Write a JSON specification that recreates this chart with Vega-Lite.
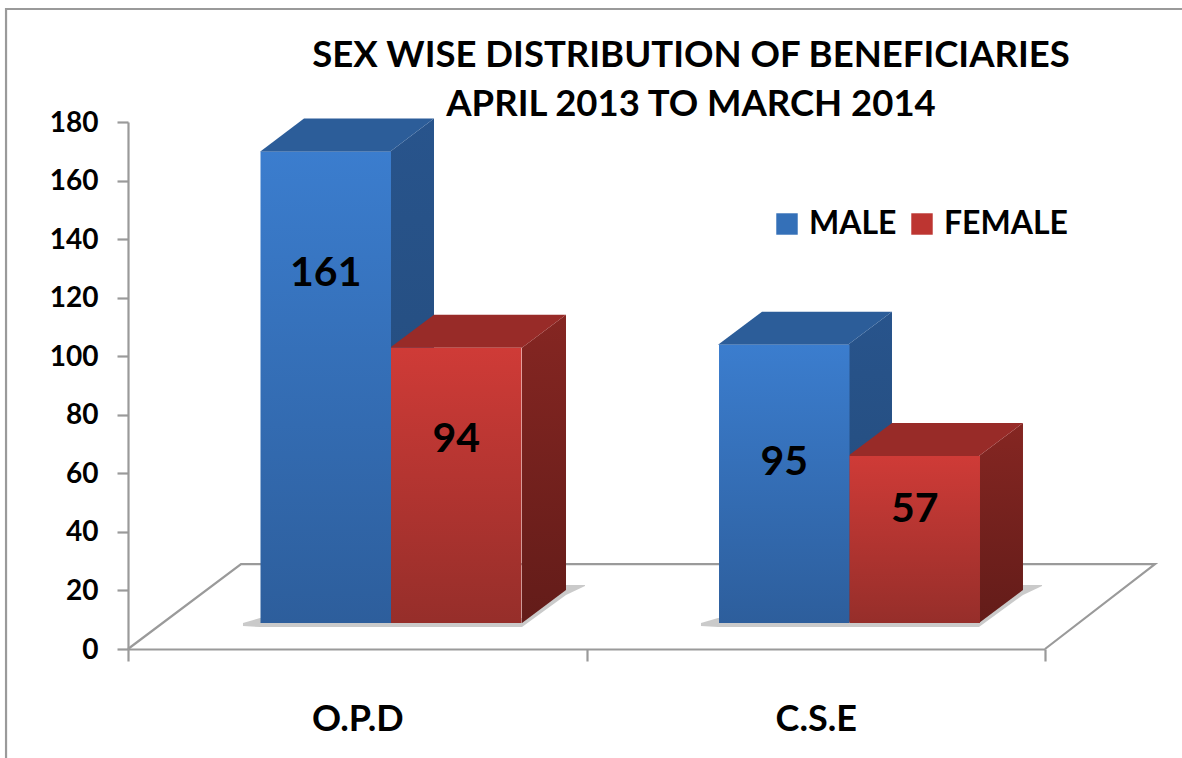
{
"$schema":"https://vega.github.io/schema/vega-lite/v6.json",
"width":1176,"height":749,"autosize":"none",
"padding":{"left":6,"top":9,"right":0,"bottom":0},
"background":"white",
"title":{"text":["SEX WISE DISTRIBUTION OF BENEFICIARIES","APRIL 2013 TO MARCH 2014"],"font":"Lato","fontWeight":"bold","fontSize":36.5,"lineHeight":49,"color":"black","anchor":"middle","frame":"group","dx":97,"dy":148,"offset":0,"baseline":"alphabetic"},
"config":{"view":{"stroke":null}},
"datasets":{
"bars":[
{"category":"O.P.D","sex":"MALE","value":161,"labelAt":119.9},
{"category":"O.P.D","sex":"FEMALE","value":94,"labelAt":63.2},
{"category":"C.S.E","sex":"MALE","value":95,"labelAt":55.3},
{"category":"C.S.E","sex":"FEMALE","value":57,"labelAt":39.3}],
"outline":[
{"shape":"frame","i":0,"u":-0.266,"v":-37.2},{"shape":"frame","i":1,"u":-0.266,"v":218.6},{"shape":"frame","i":2,"u":2.299,"v":218.6},
{"shape":"floor","i":0,"u":0,"v":0},{"shape":"floor","i":1,"u":0.2465,"v":29},{"shape":"floor","i":2,"u":2.2399,"v":29},{"shape":"floor","i":3,"u":2,"v":0}],
"shadow":[
{"group":"O.P.D","u":0.2508,"hi":0,"lo":-1},{"group":"O.P.D","u":0.2879,"hi":1.7,"lo":-1.4},{"group":"O.P.D","u":0.8593,"hi":1.7,"lo":-1.4},{"group":"O.P.D","u":0.9553,"hi":13,"lo":9.6},{"group":"O.P.D","u":0.9967,"hi":13,"lo":12.6},
{"group":"C.S.E","u":1.2497,"hi":0,"lo":-1},{"group":"C.S.E","u":1.2868,"hi":1.7,"lo":-1.4},{"group":"C.S.E","u":1.856,"hi":1.7,"lo":-1.4},{"group":"C.S.E","u":1.952,"hi":13,"lo":9.6},{"group":"C.S.E","u":1.9935,"hi":13,"lo":12.6}],
"faces":[
{"bar":"OPD M side","face":"MALE side","u":0.5714,"hi":161,"lo":0},{"bar":"OPD M side","face":"MALE side","u":0.6674,"hi":172.3,"lo":11.3},
{"bar":"OPD M top","face":"MALE top","u":0.2879,"hi":161,"lo":161},{"bar":"OPD M top","face":"MALE top","u":0.3839,"hi":172.3,"lo":161},{"bar":"OPD M top","face":"MALE top","u":0.5714,"hi":172.3,"lo":161},{"bar":"OPD M top","face":"MALE top","u":0.6674,"hi":172.3,"lo":172.3},
{"bar":"CSE M side","face":"MALE side","u":1.5703,"hi":95,"lo":0},{"bar":"CSE M side","face":"MALE side","u":1.6663,"hi":106.3,"lo":11.3},
{"bar":"CSE M top","face":"MALE top","u":1.2868,"hi":95,"lo":95},{"bar":"CSE M top","face":"MALE top","u":1.3828,"hi":106.3,"lo":95},{"bar":"CSE M top","face":"MALE top","u":1.5703,"hi":106.3,"lo":95},{"bar":"CSE M top","face":"MALE top","u":1.6663,"hi":106.3,"lo":106.3},
{"bar":"OPD F side","face":"FEMALE side","u":0.8593,"hi":94,"lo":0},{"bar":"OPD F side","face":"FEMALE side","u":0.9553,"hi":105.3,"lo":11.3},
{"bar":"OPD F top","face":"FEMALE top","u":0.5714,"hi":94,"lo":94},{"bar":"OPD F top","face":"FEMALE top","u":0.6674,"hi":105.3,"lo":94},{"bar":"OPD F top","face":"FEMALE top","u":0.8593,"hi":105.3,"lo":94},{"bar":"OPD F top","face":"FEMALE top","u":0.9553,"hi":105.3,"lo":105.3},
{"bar":"CSE F side","face":"FEMALE side","u":1.856,"hi":57,"lo":0},{"bar":"CSE F side","face":"FEMALE side","u":1.952,"hi":68.3,"lo":11.3},
{"bar":"CSE F top","face":"FEMALE top","u":1.5703,"hi":57,"lo":57},{"bar":"CSE F top","face":"FEMALE top","u":1.6663,"hi":68.3,"lo":57},{"bar":"CSE F top","face":"FEMALE top","u":1.856,"hi":68.3,"lo":57},{"bar":"CSE F top","face":"FEMALE top","u":1.952,"hi":68.3,"lo":68.3}]
},
"resolve":{"scale":{"x":"independent","y":"independent","color":"independent","xOffset":"independent"},"axis":{"x":"independent","y":"independent"}},
"layer":[
{"data":{"name":"outline"},"mark":{"type":"line","color":"#9a9a9a","strokeWidth":2.2,"clip":false},
 "encoding":{"x":{"field":"u","type":"quantitative","axis":null,"scale":{"domain":[0,2],"range":[122,1039],"nice":false,"zero":false}},
 "y":{"field":"v","type":"quantitative","axis":null,"scale":{"domain":[0,180],"range":[640,113],"nice":false,"zero":false}},
 "detail":{"field":"shape"},"order":{"field":"i"}}},
{"data":{"name":"bars"},"mark":{"type":"point","filled":true,"fillOpacity":0,"strokeOpacity":0},
 "encoding":{"x":{"field":"category","type":"nominal","sort":["O.P.D","C.S.E"],"title":null,
   "scale":{"domain":["O.P.D","C.S.E"],"range":[122,1039],"paddingInner":0,"paddingOuter":0},
   "axis":{"offset":-109,"labelAngle":0,"tickBand":"extent","domainColor":"#9a9a9a","domainWidth":2.2,"tickColor":"#9a9a9a","tickWidth":2.2,"tickSize":12,"labelFont":"Lato","labelFontWeight":"bold","labelFontSize":36,"labelColor":"black","labelPadding":41}},
  "y":{"field":"value","type":"quantitative","title":null,
   "scale":{"domain":[0,180],"range":[640,113],"nice":false},
   "axis":{"offset":-122,"values":[0,20,40,60,80,100,120,140,160,180],"grid":false,"domainColor":"#9a9a9a","domainWidth":2.2,"tickColor":"#9a9a9a","tickWidth":2.2,"tickSize":11,"labelFont":"Lato","labelFontWeight":"bold","labelFontSize":28,"labelColor":"black","labelPadding":19,"labelOffset":1}},
  "color":{"field":"sex","type":"nominal","title":null,
   "scale":{"domain":["MALE","FEMALE"],"range":["#3470b8","#bd3531"]},
   "legend":{"orient":"none","legendX":765,"legendY":199,"direction":"horizontal","columns":2,"symbolType":"square","symbolSize":460,"symbolStrokeWidth":0,"labelFont":"Lato","labelFontWeight":"bold","labelFontSize":32,"labelColor":"black","labelOffset":6,"columnPadding":9,"labelLimit":200,
    "encode":{"symbols":{"update":{"opacity":{"value":1},"fillOpacity":{"value":1},"fill":{"signal":"datum.value === 'MALE' ? {gradient:'linear',id:'legendM',x1:0,y1:0,x2:0,y2:1,stops:[{offset:0,color:'#3b7dce'},{offset:1,color:'#2d5e9c'}]} : {gradient:'linear',id:'legendF',x1:0,y1:0,x2:0,y2:1,stops:[{offset:0,color:'#cf3b37'},{offset:1,color:'#962e2a'}]}"}}}}}}}},
{"data":{"name":"shadow"},"mark":{"type":"area","orient":"vertical","color":"#bdbdbd","opacity":0.8,"clip":false},
 "encoding":{"x":{"field":"u","type":"quantitative","axis":null,"scale":{"domain":[0,2],"range":[122,1039],"nice":false,"zero":false}},
 "y":{"field":"hi","type":"quantitative","axis":null,"stack":null,"scale":{"domain":[0,180],"range":[614,87],"nice":false,"zero":false}},
 "y2":{"field":"lo"},"detail":{"field":"group"}}},
{"data":{"name":"faces"},"transform":[{"filter":"datum.face === 'MALE side'"}],
 "mark":{"type":"area","orient":"vertical","clip":false,"color":{"gradient":"linear","x1":0,"y1":0,"x2":0,"y2":1,"stops":[{"offset":0,"color":"#28548c"},{"offset":1,"color":"#234a78"}]}},
 "encoding":{"x":{"field":"u","type":"quantitative","axis":null,"scale":{"domain":[0,2],"range":[122,1039],"nice":false,"zero":false}},
 "y":{"field":"hi","type":"quantitative","axis":null,"stack":null,"scale":{"domain":[0,180],"range":[614,87],"nice":false,"zero":false}},
 "y2":{"field":"lo"},"detail":{"field":"bar"}}},
{"data":{"name":"faces"},"transform":[{"filter":"datum.face === 'MALE top'"}],
 "mark":{"type":"area","orient":"vertical","clip":false,"color":"#2c5d99"},
 "encoding":{"x":{"field":"u","type":"quantitative","axis":null,"scale":{"domain":[0,2],"range":[122,1039],"nice":false,"zero":false}},
 "y":{"field":"hi","type":"quantitative","axis":null,"stack":null,"scale":{"domain":[0,180],"range":[614,87],"nice":false,"zero":false}},
 "y2":{"field":"lo"},"detail":{"field":"bar"}}},
{"data":{"name":"faces"},"transform":[{"filter":"datum.face === 'FEMALE side'"}],
 "mark":{"type":"area","orient":"vertical","clip":false,"color":{"gradient":"linear","x1":0,"y1":0,"x2":0,"y2":1,"stops":[{"offset":0,"color":"#852622"},{"offset":1,"color":"#631c19"}]}},
 "encoding":{"x":{"field":"u","type":"quantitative","axis":null,"scale":{"domain":[0,2],"range":[122,1039],"nice":false,"zero":false}},
 "y":{"field":"hi","type":"quantitative","axis":null,"stack":null,"scale":{"domain":[0,180],"range":[614,87],"nice":false,"zero":false}},
 "y2":{"field":"lo"},"detail":{"field":"bar"}}},
{"data":{"name":"faces"},"transform":[{"filter":"datum.face === 'FEMALE top'"}],
 "mark":{"type":"area","orient":"vertical","clip":false,"color":"#982b28"},
 "encoding":{"x":{"field":"u","type":"quantitative","axis":null,"scale":{"domain":[0,2],"range":[122,1039],"nice":false,"zero":false}},
 "y":{"field":"hi","type":"quantitative","axis":null,"stack":null,"scale":{"domain":[0,180],"range":[614,87],"nice":false,"zero":false}},
 "y2":{"field":"lo"},"detail":{"field":"bar"}}},
{"data":{"name":"bars"},"transform":[{"filter":"datum.sex === 'MALE'"}],
 "mark":{"type":"bar","clip":false,"color":{"gradient":"linear","x1":0,"y1":0,"x2":0,"y2":1,"stops":[{"offset":0,"color":"#3b7dce"},{"offset":1,"color":"#2d5e9c"}]}},
 "encoding":{"x":{"field":"category","type":"nominal","sort":["O.P.D","C.S.E"],"axis":null,
   "scale":{"domain":["O.P.D","C.S.E"],"range":[155.75,1072.75],"paddingInner":0.4308,"paddingOuter":0.2154}},
  "xOffset":{"field":"sex","type":"nominal","scale":{"domain":["MALE","FEMALE"],"paddingInner":0,"paddingOuter":0}},
  "y":{"field":"value","type":"quantitative","axis":null,"scale":{"domain":[0,180],"range":[614,87],"nice":false}}}},
{"data":{"name":"bars"},"transform":[{"filter":"datum.sex === 'FEMALE'"}],
 "mark":{"type":"bar","clip":false,"color":{"gradient":"linear","x1":0,"y1":0,"x2":0,"y2":1,"stops":[{"offset":0,"color":"#cf3b37"},{"offset":1,"color":"#962e2a"}]}},
 "encoding":{"x":{"field":"category","type":"nominal","sort":["O.P.D","C.S.E"],"axis":null,
   "scale":{"domain":["O.P.D","C.S.E"],"range":[155.75,1072.75],"paddingInner":0.4308,"paddingOuter":0.2154}},
  "xOffset":{"field":"sex","type":"nominal","scale":{"domain":["MALE","FEMALE"],"paddingInner":0,"paddingOuter":0}},
  "y":{"field":"value","type":"quantitative","axis":null,"scale":{"domain":[0,180],"range":[614,87],"nice":false}}}},
{"data":{"name":"bars"},"mark":{"type":"text","font":"Lato","fontWeight":"bold","fontSize":41,"color":"black","baseline":"middle","dy":2,"clip":false},
 "encoding":{"x":{"field":"category","type":"nominal","sort":["O.P.D","C.S.E"],"axis":null,
   "scale":{"domain":["O.P.D","C.S.E"],"range":[155.75,1072.75],"paddingInner":0.4308,"paddingOuter":0.2154}},
  "xOffset":{"field":"sex","type":"nominal","scale":{"type":"point","domain":["MALE","FEMALE"],"padding":0.5}},
  "y":{"field":"labelAt","type":"quantitative","axis":null,"scale":{"domain":[0,180],"range":[614,87],"nice":false}},
  "text":{"field":"value","type":"quantitative"}}}
]
}
